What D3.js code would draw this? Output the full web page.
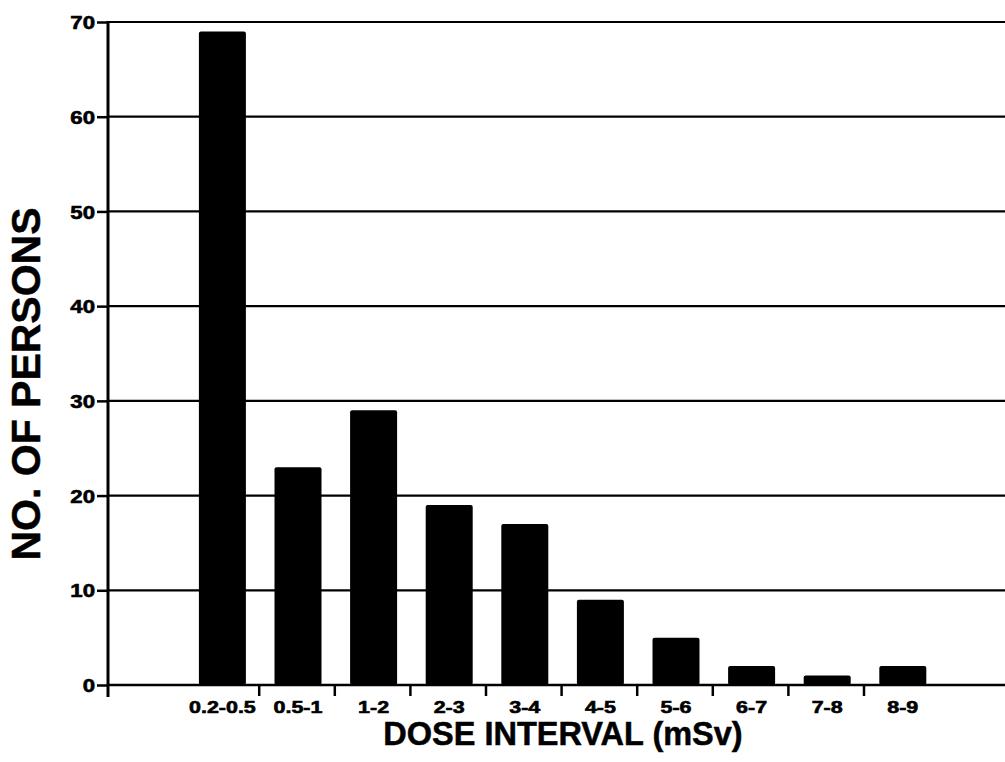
<!DOCTYPE html>
<html><head><meta charset="utf-8">
<script src="https://cdn.jsdelivr.net/npm/d3@7"></script>
<style>html,body{margin:0;padding:0;background:#fff;overflow:hidden}</style>
</head><body>
<svg id="c" width="1005" height="762"></svg>
<script>
const categories = ["0.2-0.5","0.5-1","1-2","2-3","3-4","4-5","5-6","6-7","7-8","8-9"];
const persons = [69, 23, 29, 19, 17, 9, 5, 2, 1, 2];
const yTicks = [0,10,20,30,40,50,60,70];
const xTitle = "DOSE INTERVAL (mSv)";
const yTitle = "NO. OF PERSONS";

(function(){
const svg = d3.select("#c");
const font = "'Liberation Sans', Arial, Helvetica, sans-serif";
const pLeft = 108, pRight = 1005, pTop = 22, pBottom = 685;
const slots = ["_blank"].concat(categories);
const x = d3.scaleBand().domain(slots).range([pLeft, pLeft + 11*75.6]).paddingInner(0).paddingOuter(0);
const y = d3.scaleLinear().domain([0,70]).range([pBottom, pTop]);
const barW = 47;

function stretch(sel, f){
  sel.each(function(){
    const L = this.getComputedTextLength();
    d3.select(this).attr("textLength", L*f).attr("lengthAdjust","spacingAndGlyphs");
  });
}

// gridlines
svg.append("g").selectAll("line").data(yTicks.filter(d=>d>0)).join("line")
  .attr("x1", pLeft).attr("x2", pRight).attr("y1", d=>y(d)).attr("y2", d=>y(d))
  .attr("stroke","#000").attr("stroke-width",2.2);

// bars
svg.append("g").selectAll("rect").data(categories).join("rect")
  .attr("x", (d)=>x(d)+x.bandwidth()/2 - barW/2 + 1)
  .attr("width", barW)
  .attr("y", (d,i)=>y(persons[i]))
  .attr("height", (d,i)=>pBottom - y(persons[i]))
  .attr("rx", 2).attr("fill","#000");

// y axis
const yAxis = d3.axisLeft(y).tickValues(yTicks).tickSize(11).tickPadding(2).tickFormat(d3.format("d"));
const gy = svg.append("g").attr("transform",`translate(${pLeft},0)`).call(yAxis);
gy.select(".domain").remove();
gy.selectAll(".tick line").attr("stroke","#000").attr("stroke-width",2.5);
const yt = gy.selectAll(".tick text").attr("font-family",font).attr("font-weight","bold")
  .attr("font-size",18.5).attr("fill","#000").attr("stroke","#000").attr("stroke-width",0.6)
  .attr("dy","0.36em");
stretch(yt, 1.2);
svg.append("line").attr("x1",pLeft).attr("x2",pLeft).attr("y1",pTop-1).attr("y2",pBottom+12)
  .attr("stroke","#000").attr("stroke-width",3);

// x axis baseline
svg.append("line").attr("x1",pLeft).attr("x2",pRight).attr("y1",pBottom).attr("y2",pBottom)
  .attr("stroke","#000").attr("stroke-width",2.5);

// x axis ticks between categories
const bounds = categories.slice(0, -1).map(c => x(c) + x.bandwidth());
svg.append("g").selectAll("line").data(bounds).join("line")
  .attr("x1", d=>d).attr("x2", d=>d).attr("y1", pBottom).attr("y2", pBottom+11)
  .attr("stroke","#000").attr("stroke-width",2.5);

// x labels
const xl = svg.append("g").selectAll("text").data(categories).join("text")
  .attr("x", d=>x(d)+x.bandwidth()/2+1).attr("y", 713)
  .attr("text-anchor","middle").attr("font-family",font).attr("font-weight","bold")
  .attr("font-size",16.5).attr("fill","#000").attr("stroke","#000").attr("stroke-width",0.6)
  .text(d=>d);
stretch(xl, 1.3);

// titles
svg.append("text").attr("x",563).attr("y",745).attr("text-anchor","middle")
  .attr("font-family",font).attr("font-weight","bold").attr("font-size",32.5).attr("fill","#000")
  .attr("stroke","#000").attr("stroke-width",0.5)
  .text(xTitle);
svg.append("text").attr("transform","translate(40,384) rotate(-90)").attr("text-anchor","middle")
  .attr("font-family",font).attr("font-weight","bold").attr("font-size",41).attr("fill","#000")
  .attr("stroke","#000").attr("stroke-width",0.5)
  .text(yTitle);
})();
</script>
</body></html>
